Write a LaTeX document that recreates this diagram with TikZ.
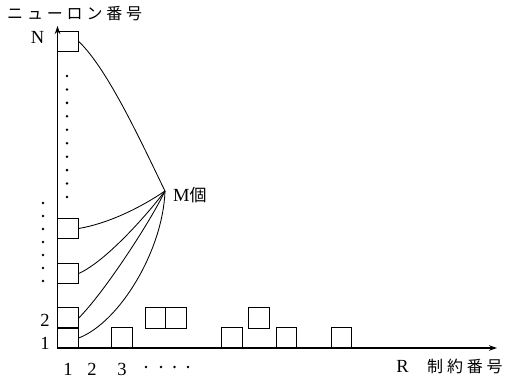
\documentclass[tikz,border=0pt]{standalone}
\usepackage{fontspec}
\setmainfont{Liberation Serif}
\newfontfamily\jp{Noto Sans CJK JP}
\usetikzlibrary{arrows.meta}
\begin{document}
\begin{tikzpicture}[x=1pt,y=-1pt,
  cell/.style={draw, line width=0.9pt, minimum width=20.5pt, minimum height=20.5pt, inner sep=0pt},
  axis/.style={line width=1.5pt},
  link/.style={line width=0.85pt},
  lbl/.style={font=\fontsize{18.5}{18.5}\selectfont, inner sep=0pt},
  jlbl/.style={font=\jp\fontsize{16}{16}\selectfont\addfontfeature{LetterSpace=24}, inner sep=0pt},
  dotmark/.style={fill, circle, inner sep=0pt, minimum size=2.8pt}
]
\useasboundingbox (0,0) rectangle (507,385);
% axes
\coordinate (O) at (57.5,348);
\coordinate (ytop) at (57.5,26);
\coordinate (xend) at (497,348);
\draw[axis,-{Stealth[length=8pt,width=5.5pt]}] (O) -- (ytop);
\draw[axis,-{Stealth[length=8pt,width=5.5pt]}] (O) -- (xend);
% column 1 boxes
\node[cell] (bN) at (68,41.5) {};
\node[cell] (b4) at (68,228.5) {};
\node[cell] (b3) at (68,273.5) {};
\node[cell] (b2) at (68,318) {};
\node[cell] (b1) at (68,338) {};
% other boxes
\node[cell] (c3) at (122,338) {};
\node[cell] (p1) at (155.5,318) {};
\node[cell] (p2) at (176,318) {};
\node[cell] (q1) at (232,338) {};
\node[cell] (q2) at (259,318) {};
\node[cell] (q3) at (286.5,338) {};
\node[cell] (q4) at (341.5,338) {};
% M point
\coordinate (M) at (165,191);
\node[lbl, anchor=west] (Mlab) at (173,195) {M{\jp\fontsize{17}{17}\selectfont 個}};
% curves
\draw[link] (bN.east) .. controls (108,69) and (143,146) .. (M);
\draw[link] (b4.east) .. controls (108,223.5) and (140,208) .. (M);
\draw[link] (b3.east) .. controls (105.6,261.5) and (147,215) .. (M);
\draw[link] (b2.east) .. controls (103,294) and (150,222.5) .. (M);
\draw[link] (b1.east) .. controls (120,322) and (163,250) .. (M);
% vertical dots in column
\foreach \i in {0,...,9} \node[dotmark] (vd\i) at (67,76+13.45*\i) {};
% left dots
\foreach \i in {0,...,6} \node[dotmark] (ld\i) at (43,203+13*\i) {};
% bottom dots
\foreach \xx [count=\i] in {146,161,174.5,188} \node[dotmark] (bd\i) at (\xx,367) {};
% labels
\node[jlbl, anchor=west] (ytitle) at (7,14) {ニューロン番号};
\node[lbl] (lN) at (37.5,37) {N};
\node[lbl] (l2) at (45,320) {2};
\node[lbl] (l1) at (45,343) {1};
\node[lbl] (x1) at (68,369) {1};
\node[lbl] (x2) at (92,369) {2};
\node[lbl] (x3) at (122,369) {3};
\node[lbl] (lR) at (402.5,366) {R};
\node[jlbl, anchor=west] (xtitle) at (427,366) {制約番号};
\end{tikzpicture}
\end{document}
